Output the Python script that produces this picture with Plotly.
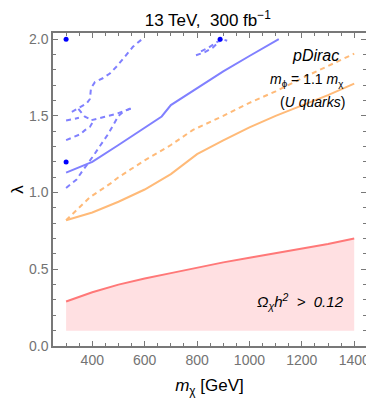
import plotly.graph_objects as go

# ---------------- data ----------------
mx_grid = [300, 400, 500, 600, 700, 800, 900, 1000, 1100, 1200, 1300, 1400]
relic_lambda = [0.29, 0.35, 0.40, 0.44, 0.475, 0.51, 0.545, 0.575, 0.605, 0.635, 0.665, 0.70]
relic_floor = [0.1] * len(mx_grid)

orange_solid_x = [300, 400, 500, 600, 700, 800, 900, 1000, 1100, 1200, 1300, 1400]
orange_solid_y = [0.82, 0.87, 0.94, 1.02, 1.12, 1.25, 1.34, 1.425, 1.50, 1.565, 1.635, 1.71]

orange_dash_x = [300, 350, 391, 470, 500, 600, 700, 783, 900, 1000, 1100, 1200, 1300, 1400]
orange_dash_y = [0.82, 0.90, 0.97, 1.06, 1.10, 1.21, 1.31, 1.407, 1.50, 1.585, 1.66, 1.745, 1.825, 1.905]

blue_solid_x = [300, 400, 500, 600, 665, 700, 800, 900, 1000, 1112]
blue_solid_y = [1.13, 1.20, 1.31, 1.425, 1.496, 1.57, 1.68, 1.79, 1.89, 2.0]

blue_dash_upper_x = [322, 347, 378, 391, 395, 410, 440, 467, 492, 524, 555, 590]
blue_dash_upper_y = [1.526, 1.548, 1.58, 1.61, 1.68, 1.72, 1.745, 1.776, 1.82, 1.885, 1.95, 2.0]

blue_dash_cross_x = [347, 372, 397]
blue_dash_cross_y = [1.545, 1.494, 1.475]

blue_dash_left_x = [300, 334, 349]
blue_dash_left_y = [1.47, 1.483, 1.487]

blue_dash_mid_x = [397, 416, 448, 486, 517, 549]
blue_dash_mid_y = [1.472, 1.479, 1.494, 1.51, 1.53, 1.548]

blue_dash_low_x = [300, 334, 353, 372, 391, 402]
blue_dash_low_y = [1.342, 1.364, 1.379, 1.407, 1.428, 1.46]

blue_dash_steep_x = [300, 320, 340, 360, 380, 400, 420, 440, 460, 480, 500, 520, 549]
blue_dash_steep_y = [1.03, 1.055, 1.085, 1.135, 1.18, 1.23, 1.28, 1.33, 1.38, 1.44, 1.50, 1.53, 1.55]

blue_dash_topA_x = [796, 830, 860, 880, 895]
blue_dash_topA_y = [1.895, 1.915, 1.945, 1.975, 2.0]
blue_dash_topB_x = [815, 845, 870, 895, 915]
blue_dash_topB_y = [1.92, 1.945, 1.975, 2.0, 1.99]

blue_dots_x = [300, 300, 888]
blue_dots_y = [2.0, 1.2, 2.0]

x_ticks = [400, 600, 800, 1000, 1200, 1400]
y_ticks = [0.0, 0.5, 1.0, 1.5, 2.0]
y_tick_labels = ["0.0", "0.5", "1.0", "1.5", "2.0"]

# ---------------- styles ----------------
BLUE = "rgb(128,128,255)"
ORANGE = "rgb(255,186,120)"
RED = "rgb(255,120,120)"
PINK = "rgb(255,224,226)"
DASH = "5px,4px"
FONT = "Liberation Sans"

fig = go.Figure()

# relic region
fig.add_trace(go.Scatter(x=mx_grid, y=relic_floor, mode="lines",
                         line=dict(width=0, color=PINK), hoverinfo="skip", showlegend=False))
fig.add_trace(go.Scatter(x=mx_grid, y=relic_lambda, mode="lines", fill="tonexty",
                         fillcolor=PINK, line=dict(width=2, color=RED), showlegend=False))

# orange
fig.add_trace(go.Scatter(x=orange_solid_x, y=orange_solid_y, mode="lines",
                         line=dict(width=2, color=ORANGE), showlegend=False))
fig.add_trace(go.Scatter(x=orange_dash_x, y=orange_dash_y, mode="lines",
                         line=dict(width=2, color=ORANGE, dash=DASH), showlegend=False))

# blue dashed pieces
for xs, ys in [(blue_dash_upper_x, blue_dash_upper_y),
               (blue_dash_cross_x, blue_dash_cross_y),
               (blue_dash_left_x, blue_dash_left_y),
               (blue_dash_mid_x, blue_dash_mid_y),
               (blue_dash_low_x, blue_dash_low_y),
               (blue_dash_steep_x, blue_dash_steep_y),
               (blue_dash_topA_x, blue_dash_topA_y),
               (blue_dash_topB_x, blue_dash_topB_y)]:
    fig.add_trace(go.Scatter(x=xs, y=ys, mode="lines",
                             line=dict(width=2, color=BLUE, dash=DASH), showlegend=False))

# blue solid
fig.add_trace(go.Scatter(x=blue_solid_x, y=blue_solid_y, mode="lines",
                         line=dict(width=2, color=BLUE), showlegend=False))

# blue dots
fig.add_trace(go.Scatter(x=blue_dots_x, y=blue_dots_y, mode="markers",
                         marker=dict(size=5, color="rgb(0,0,255)"), showlegend=False, cliponaxis=False))

TXT = dict(family=FONT, size=14, color="black")
ann = [
    dict(x=1253, y=1.896, text="<i>pDirac</i>", font=dict(family=FONT, size=16, color="black")),
    dict(x=1219, y=1.733, text="<i>m</i><sub>ϕ</sub> = 1.1 <i>m</i><sub>χ</sub>", font=TXT),
    dict(x=1240, y=1.59, text="(<i>U quarks</i>)", font=TXT),
    dict(x=1195, y=0.287, text="<i>Ω<sub>χ</sub>h<sup>2</sup>  >  0.12</i>", font=dict(family=FONT, size=15, color="black")),
]
for a in ann:
    fig.add_annotation(xref="x", yref="y", showarrow=False, xanchor="center", yanchor="middle", **a)

axis_common = dict(
    showgrid=False, zeroline=False, showline=True, linecolor="rgb(120,120,120)", linewidth=1.5,
    mirror="allticks", ticks="inside", ticklen=5, tickwidth=1, tickcolor="rgb(120,120,120)",
    tickfont=dict(family=FONT, size=14, color="rgb(115,115,115)"), automargin=False,
)

fig.update_xaxes(range=[250, 1445], tickvals=x_ticks, ticktext=[str(v) for v in x_ticks],
                 minor=dict(ticks="inside", dtick=50, tick0=0, ticklen=3, tickcolor="rgb(120,120,120)"),
                 title=dict(text="<i>m</i><sub>χ</sub> [GeV]", font=dict(family=FONT, size=17, color="black")),
                 **axis_common)
fig.update_yaxes(range=[0, 2.04], tickvals=y_ticks, ticktext=y_tick_labels,
                 minor=dict(ticks="inside", dtick=0.1, tick0=0, ticklen=3, tickcolor="rgb(120,120,120)"),
                 title=dict(text="λ", font=dict(family=FONT, size=17, color="black")),
                 **axis_common)

# the page body has an 8px default margin, so the figure is sized to fit inside it
fig.update_layout(
    width=366, height=390,
    margin=dict(l=45, r=8, t=25, b=52, autoexpand=False),
    plot_bgcolor="white", paper_bgcolor="white",
    title=dict(text="13 TeV,  300 fb<sup>−1</sup>", x=0.546, xanchor="center", y=0.968, yanchor="middle",
               font=dict(family=FONT, size=17, color="black")),
    showlegend=False,
)

fig.write_html("out.html")
